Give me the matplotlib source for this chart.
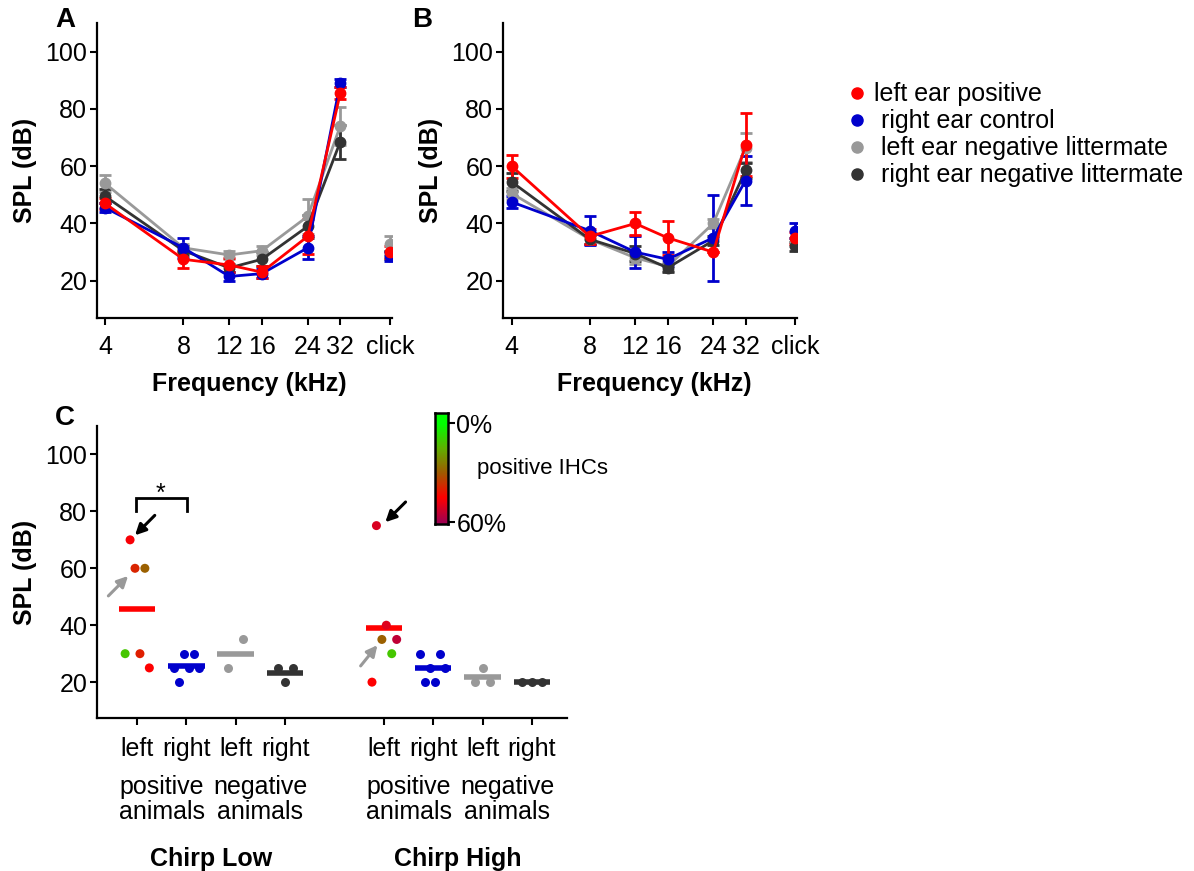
import numpy as np
import matplotlib
matplotlib.use("Agg")
import matplotlib.pyplot as plt
from matplotlib.colors import LinearSegmentedColormap
from matplotlib.lines import Line2D
from matplotlib.transforms import blended_transform_factory

plt.rcParams["font.family"] = ["Liberation Sans", "DejaVu Sans"]
plt.rcParams["font.size"] = 18

W, H = 1194, 871   # figure size in pixels (dpi 100)

# ── ABR thresholds, panels A and B ──
FREQS = [4, 8, 12, 16, 24, 32]
FREQ_LABELS = ["4", "8", "12", "16", "24", "32", "click"]
SERIES = ["left ear positive", " right ear control",
          " left ear negative littermate", " right ear negative littermate"]
COLORS = ["#ff0000", "#0000cc", "#999999", "#333333"]

# values at 4, 8, 12, 16, 24, 32 kHz, last entry = click
a_left_pos = [47, 27.5, 25.5, 23, 35.5, 85.5, 30]
a_left_pos_err = [2, 3, 2.5, 2, 6, 2, 2]
a_right_ctrl = [45.5, 31.5, 21.5, 22.5, 31.5, 89, 28.5]
a_right_ctrl_err = [1.5, 3.5, 1.5, 1.5, 4, 1.5, 1.5]
a_left_neg = [54, 31.5, 29, 30.5, 42.5, 74, 33]
a_left_neg_err = [3, 1.5, 1.5, 1.5, 6, 6.5, 2.5]
a_right_neg = [49.5, 30.5, 24.5, 27.5, 39, 68.5, 29]
a_right_neg_err = [2.5, 1.5, 1.5, 2.5, 4, 6, 1.5]

b_left_pos = [60, 35.5, 40, 35, 30, 67.5, 35]
b_left_pos_err = [4, 2.5, 4, 6, 0, 11, 2]
b_right_ctrl = [47.5, 37.5, 30, 27.5, 35, 55, 37.5]
b_right_ctrl_err = [2, 5, 5.5, 2.5, 15, 8.5, 2.5]
b_left_neg = [50.5, 34.5, 28, 25, 40, 66.5, 33.5]
b_left_neg_err = [2, 1.5, 2, 1.5, 1.5, 5, 1.5]
b_right_neg = [54.5, 34.5, 29.5, 24.5, 34, 58.5, 32]
b_right_neg_err = [3, 1.5, 2.5, 1.5, 1.5, 2.5, 1.5]

# ── chirp thresholds, panel C ──
C_TICKLABELS = ["left", "right", "left", "right", "left", "right", "left", "right"]
low_left_pos = [70, 60, 60, 30, 30, 25]
low_left_pos_pct = [46, 39, 29, 11, 40, 45]     # % positive IHCs
low_right_pos = [30, 30, 25, 25, 25, 20]
low_left_neg = [35, 25]
low_right_neg = [25, 25, 20]
high_left_pos = [75, 40, 35, 35, 30, 20]
high_left_pos_pct = [51, 50, 29, 55, 11, 45]
high_right_pos = [30, 30, 25, 25, 20, 20]
high_left_neg = [25, 20, 20]
high_right_neg = [20, 20, 20]

# horizontal scatter of the dots inside a group (layout only)
JIT_LOW = [[-0.14, -0.04, 0.16, -0.24, 0.06, 0.25],
           [-0.05, 0.15, -0.26, 0.05, 0.25, -0.15],
           [0.14, -0.15],
           [-0.15, 0.15, 0.0]]
JIT_HIGH = [[-0.15, 0.05, -0.04, 0.26, 0.16, -0.24],
            [-0.26, 0.14, -0.06, 0.24, -0.16, 0.04],
            [0.0, -0.16, 0.15],
            [-0.2, 0.0, 0.2]]

IHC_CMAP = LinearSegmentedColormap.from_list(
    "ihc", [(0, "#00ff00"), (0.25, "#60b000"), (0.5, "#a05a00"),
            (0.75, "#ff0000"), (1.0, "#a00050")])

CLICK_POS = 5.64   # x position (log2 units) of the click stimulus


def px_axes(fig, x0, y0, x1, y1):
    return fig.add_axes([x0 / W, 1 - y1 / H, (x1 - x0) / W, (y1 - y0) / H])


def style_axes(ax):
    for s in ("top", "right"):
        ax.spines[s].set_visible(False)
    for s in ("left", "bottom"):
        ax.spines[s].set_linewidth(1.6)
    ax.tick_params(width=1.5, length=5, labelsize=18)
    ax.tick_params(axis="x", pad=7.5)
    ax.tick_params(axis="y", pad=2)
    ax.set_yticks([20, 40, 60, 80, 100])


def abr_panel(ax, data, xlim):
    x = np.log2(FREQS)
    for i in (2, 3, 1, 0):
        vals, errs = data[i]
        ax.errorbar(x, vals[:6], yerr=errs[:6], color=COLORS[i], marker="o",
                    ms=7.5, lw=2, elinewidth=2, capsize=4.2, capthick=2)
        ax.errorbar([CLICK_POS], [vals[6]], yerr=[errs[6]], color=COLORS[i],
                    marker="o", ms=7.5, ls="none", elinewidth=2, capsize=4.2, capthick=2)
    style_axes(ax)
    ax.set_xticks(list(x) + [CLICK_POS])
    ax.set_xticklabels(FREQ_LABELS)
    ax.set_xlim(*xlim)
    ax.set_ylim(7, 110)
    ax.set_xlabel("Frequency (kHz)", fontweight="bold")
    ax.set_ylabel("SPL (dB)", fontweight="bold")
    ax.xaxis.set_label_coords(0.515, -0.183)
    ax.yaxis.set_label_coords(-0.205, 0.5)


fig = plt.figure(figsize=(W / 100, H / 100), dpi=100)

axA = px_axes(fig, 97, 23, 392, 318)
abr_panel(axA, [(a_left_pos, a_left_pos_err), (a_right_ctrl, a_right_ctrl_err),
                (a_left_neg, a_left_neg_err), (a_right_neg, a_right_neg_err)],
          (1.897, 5.66))

axB = px_axes(fig, 503, 23, 797, 318)
abr_panel(axB, [(b_left_pos, b_left_pos_err), (b_right_ctrl, b_right_ctrl_err),
                (b_left_neg, b_left_neg_err), (b_right_neg, b_right_neg_err)],
          (1.888, 5.66))

fig.text(65 / W, 1 - 20 / H, "A", fontsize=20, fontweight="bold", ha="center", va="center")
fig.text(422 / W, 1 - 20 / H, "B", fontsize=20, fontweight="bold", ha="center", va="center")
fig.text(65 / W, 1 - 418 / H, "C", fontsize=20, fontweight="bold", ha="center", va="center")

# legend
for i, lab in enumerate(SERIES):
    yy = 1 - (93 + i * 27) / H
    fig.add_artist(Line2D([857 / W], [yy], marker="o", ms=8, color=COLORS[i],
                          transform=fig.transFigure))
    fig.text(874 / W, yy - 1 / H, lab, fontsize=18, va="center", ha="left")

# panel C
axC = px_axes(fig, 97, 426, 567, 718)
low_groups = [low_left_pos, low_right_pos, low_left_neg, low_right_neg]
high_groups = [high_left_pos, high_right_pos, high_left_neg, high_right_neg]

for base, groups, pcts, jits in ((1, low_groups, low_left_pos_pct, JIT_LOW),
                                 (6, high_groups, high_left_pos_pct, JIT_HIGH)):
    for g, vals in enumerate(groups):
        pos = base + g
        axC.hlines(np.mean(vals), pos - 0.37, pos + 0.37, color=COLORS[g],
                   lw=4, zorder=2)
        xs = pos + np.array(jits[g])
        if g == 0:
            axC.scatter(xs, vals, c=pcts, cmap=IHC_CMAP, vmin=0, vmax=60,
                        s=42, zorder=3, linewidths=0)
        else:
            axC.scatter(xs, vals, color=COLORS[g], s=42, zorder=3, linewidths=0)

style_axes(axC)
axC.set_xticks([1, 2, 3, 4, 6, 7, 8, 9])
axC.set_xticklabels(C_TICKLABELS)
axC.tick_params(axis="x", pad=9)
axC.set_xlim(0.19, 9.71)
axC.set_ylim(7.4, 110)
axC.set_ylabel("SPL (dB)", fontweight="bold")
axC.yaxis.set_label_coords(-0.128, 0.5)

tr = blended_transform_factory(axC.transData, axC.transAxes)
for xc, lab in ((1.5, "positive\nanimals"), (3.5, "negative\nanimals"),
                (6.5, "positive\nanimals"), (8.5, "negative\nanimals")):
    axC.text(xc, -0.279, lab, transform=tr, ha="center", va="center",
             linespacing=1.05, clip_on=False)
axC.text(2.5, -0.483, "Chirp Low", transform=tr, ha="center", va="center",
         fontweight="bold", clip_on=False)
axC.text(7.5, -0.483, "Chirp High", transform=tr, ha="center", va="center",
         fontweight="bold", clip_on=False)

# arrows pointing at individual animals
arrow_kw = dict(arrowstyle="-|>", lw=2.2, mutation_scale=16, shrinkA=0, shrinkB=0)
axC.annotate("", xy=(0.96, 71.6), xytext=(1.36, 78.6),
             arrowprops=dict(color="black", **arrow_kw))
axC.annotate("", xy=(0.82, 57.3), xytext=(0.42, 50.3),
             arrowprops=dict(color="#999999", **arrow_kw))
axC.annotate("", xy=(6.03, 76.2), xytext=(6.44, 83.3),
             arrowprops=dict(color="black", **arrow_kw))
axC.annotate("", xy=(5.87, 33), xytext=(5.53, 25.7),
             arrowprops=dict(color="#999999", **arrow_kw))

# significance bracket
axC.plot([0.97, 0.97, 2.02, 2.02], [80.3, 84.7, 84.7, 80.3], color="black", lw=2,
         solid_joinstyle="miter")
axC.text(1.48, 86.2, "*", ha="center", va="center", fontsize=18)

# colour bar
cax = px_axes(fig, 435, 413, 448, 524)
cax.imshow(np.linspace(-6.3, 61, 200)[:, None], aspect="auto", cmap=IHC_CMAP,
           vmin=0, vmax=60, extent=[0, 1, 61, -6.3])
cax.set_ylim(61, -6.3)
cax.set_xticks([])
cax.yaxis.tick_right()
cax.set_yticks([0, 60])
cax.set_yticklabels(["0%", "60%"])
cax.tick_params(axis="y", width=1.5, length=5, pad=1, labelsize=18)
for s in cax.spines.values():
    s.set_linewidth(1.8)
fig.text(477 / W, 1 - 468 / H, "positive IHCs", fontsize=16, ha="left", va="center")

fig.savefig("out.png", dpi=100)
